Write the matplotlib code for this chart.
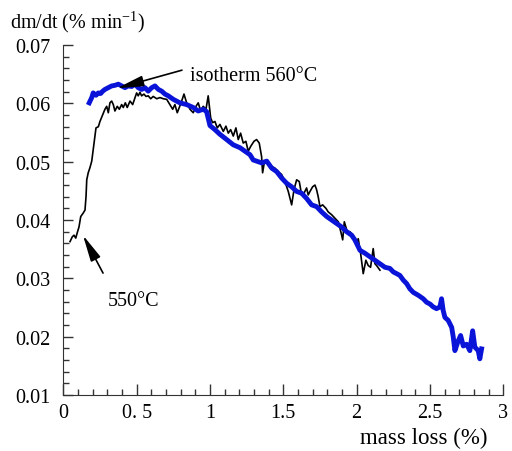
"""Mass-loss rate vs mass loss: ramp to 550 C (black) and isotherm 560 C (blue)."""

import matplotlib
matplotlib.use("Agg")
import matplotlib.pyplot as plt
from matplotlib.ticker import MultipleLocator

plt.rcParams["font.family"] = ["Liberation Serif", "DejaVu Serif"]

# black curve (heating to 550 C)
ramp_x = [0.046, 0.061, 0.073, 0.085, 0.095, 0.107, 0.119, 0.136, 0.148, 0.155,
          0.160, 0.170, 0.182, 0.194, 0.204, 0.216, 0.223, 0.239, 0.250, 0.269,
          0.284, 0.296, 0.307, 0.318, 0.330, 0.341, 0.352, 0.368, 0.382, 0.398,
          0.409, 0.423, 0.436, 0.455, 0.473, 0.489, 0.500, 0.511, 0.523, 0.534,
          0.550, 0.564, 0.579, 0.596, 0.613, 0.637, 0.659, 0.682, 0.705, 0.727,
          0.746, 0.761, 0.777, 0.791, 0.807, 0.823, 0.841, 0.864, 0.886, 0.905,
          0.920, 0.937, 0.954, 0.973, 0.988, 1.005, 1.018, 1.034, 1.050, 1.068,
          1.091, 1.109, 1.125, 1.141, 1.159, 1.177, 1.193, 1.209, 1.227, 1.245,
          1.261, 1.277, 1.300, 1.318, 1.336, 1.352, 1.359, 1.372, 1.397, 1.421,
          1.443, 1.466, 1.489, 1.511, 1.534, 1.557, 1.573, 1.591, 1.609, 1.625,
          1.641, 1.659, 1.670, 1.682, 1.700, 1.716, 1.727, 1.738, 1.750, 1.768,
          1.791, 1.806, 1.830, 1.852, 1.875, 1.895, 1.905, 1.916, 1.936, 1.954,
          1.977, 2.000, 2.011, 2.027, 2.045, 2.063, 2.079, 2.095, 2.113, 2.125,
          2.136, 2.159]
ramp_y = [0.0363, 0.0371, 0.0374, 0.0369, 0.0378, 0.0388, 0.0406, 0.0412, 0.0417, 0.0440,
          0.0469, 0.0481, 0.0490, 0.0501, 0.0521, 0.0544, 0.0558, 0.0560, 0.0569, 0.0581,
          0.0590, 0.0595, 0.0584, 0.0601, 0.0604, 0.0598, 0.0587, 0.0595, 0.0590, 0.0598,
          0.0593, 0.0601, 0.0593, 0.0604, 0.0598, 0.0610, 0.0618, 0.0613, 0.0619, 0.0613,
          0.0616, 0.0612, 0.0613, 0.0608, 0.0612, 0.0608, 0.0610, 0.0608, 0.0607, 0.0598,
          0.0590, 0.0598, 0.0584, 0.0593, 0.0604, 0.0616, 0.0601, 0.0590, 0.0584, 0.0595,
          0.0601, 0.0587, 0.0595, 0.0590, 0.0613, 0.0575, 0.0567, 0.0569, 0.0558, 0.0564,
          0.0552, 0.0561, 0.0549, 0.0555, 0.0544, 0.0558, 0.0538, 0.0549, 0.0532, 0.0535,
          0.0518, 0.0526, 0.0535, 0.0538, 0.0532, 0.0509, 0.0481, 0.0501, 0.0498, 0.0492,
          0.0489, 0.0483, 0.0478, 0.0466, 0.0449, 0.0426, 0.0452, 0.0469, 0.0466, 0.0443,
          0.0446, 0.0455, 0.0443, 0.0449, 0.0457, 0.0460, 0.0452, 0.0440, 0.0423, 0.0426,
          0.0420, 0.0414, 0.0409, 0.0403, 0.0397, 0.0377, 0.0366, 0.0397, 0.0380, 0.0380,
          0.0374, 0.0360, 0.0368, 0.0343, 0.0308, 0.0331, 0.0322, 0.0319, 0.0351, 0.0325,
          0.0322, 0.0314]

# blue curve (isotherm 560 C)
iso_x = [0.177, 0.194, 0.204, 0.223, 0.239, 0.255, 0.269, 0.284, 0.307, 0.330,
         0.352, 0.375, 0.398, 0.421, 0.443, 0.466, 0.489, 0.511, 0.534, 0.557,
         0.579, 0.603, 0.625, 0.648, 0.671, 0.693, 0.716, 0.750, 0.795, 0.841,
         0.886, 0.920, 0.954, 0.977, 1.000, 1.034, 1.068, 1.114, 1.159, 1.205,
         1.239, 1.273, 1.295, 1.318, 1.352, 1.387, 1.421, 1.455, 1.489, 1.523,
         1.557, 1.591, 1.625, 1.659, 1.693, 1.727, 1.761, 1.796, 1.830, 1.864,
         1.898, 1.932, 1.966, 1.988, 2.023, 2.057, 2.091, 2.125, 2.159, 2.193,
         2.227, 2.250, 2.273, 2.295, 2.318, 2.341, 2.363, 2.386, 2.420, 2.454,
         2.477, 2.500, 2.522, 2.545, 2.568, 2.579, 2.590, 2.602, 2.624, 2.648,
         2.659, 2.670, 2.693, 2.709, 2.727, 2.750, 2.772, 2.791, 2.806, 2.829,
         2.840, 2.852]
iso_y = [0.0601, 0.0610, 0.0618, 0.0614, 0.0618, 0.0617, 0.0621, 0.0624, 0.0627, 0.0630,
         0.0631, 0.0633, 0.0630, 0.0627, 0.0630, 0.0629, 0.0633, 0.0627, 0.0624, 0.0627,
         0.0621, 0.0627, 0.0630, 0.0624, 0.0621, 0.0616, 0.0613, 0.0607, 0.0601, 0.0598,
         0.0593, 0.0587, 0.0590, 0.0586, 0.0562, 0.0555, 0.0547, 0.0538, 0.0529, 0.0524,
         0.0518, 0.0512, 0.0503, 0.0501, 0.0498, 0.0501, 0.0489, 0.0483, 0.0472, 0.0463,
         0.0457, 0.0449, 0.0446, 0.0437, 0.0426, 0.0423, 0.0414, 0.0406, 0.0400, 0.0394,
         0.0388, 0.0380, 0.0374, 0.0366, 0.0348, 0.0343, 0.0337, 0.0331, 0.0325, 0.0319,
         0.0317, 0.0311, 0.0308, 0.0305, 0.0297, 0.0291, 0.0282, 0.0276, 0.0271, 0.0265,
         0.0259, 0.0256, 0.0251, 0.0248, 0.0251, 0.0265, 0.0245, 0.0233, 0.0228, 0.0216,
         0.0199, 0.0176, 0.0193, 0.0202, 0.0184, 0.0187, 0.0176, 0.0210, 0.0182, 0.0176,
         0.0162, 0.0179]

x_ticks = [0, 0.5, 1, 1.5, 2, 2.5, 3]
x_tick_labels = ["0", "0. 5", "1", "1.5", "2", "2.5", "3"]
y_ticks = [0.01, 0.02, 0.03, 0.04, 0.05, 0.06, 0.07]
y_tick_labels = ["0.01", "0.02", "0.03", "0.04", "0.05", "0.06", "0.07"]

fig = plt.figure(figsize=(5.12, 4.52), dpi=100)
ax = fig.add_axes([0.1236, 0.124, 0.8594, 0.774])

ax.plot(ramp_x, ramp_y, color="black", lw=1.2)
ax.plot(iso_x, iso_y, color="#0a14d8", lw=3.5, solid_joinstyle="round")

ax.set_xlim(0, 3)
ax.set_ylim(0.01, 0.07)
ax.set_xticks(x_ticks)
ax.set_xticklabels(x_tick_labels)
ax.set_yticks(y_ticks)
ax.set_yticklabels(y_tick_labels)
ax.xaxis.set_minor_locator(MultipleLocator(0.1))
ax.yaxis.set_minor_locator(MultipleLocator(0.002))
ax.tick_params(which="both", direction="in", labelsize=14.5, width=1, color="#333333")
ax.tick_params(axis="y", which="major", length=7, pad=9)
ax.tick_params(axis="y", which="minor", length=4)
ax.tick_params(axis="x", which="major", length=8, pad=6)
ax.tick_params(axis="x", which="minor", length=4)

for side in ["top", "right"]:
    ax.spines[side].set_visible(False)
for side in ["left", "bottom"]:
    ax.spines[side].set_color("#333333")

arrow = dict(arrowstyle="-|>,head_length=0.9,head_width=0.18", color="black",
             lw=1.2, mutation_scale=18, shrinkA=0, shrinkB=0)
ax.annotate("", xy=(0.366, 0.0626), xytext=(0.809, 0.0657), arrowprops=arrow)
ax.text(0.864, 0.0648, "isotherm 560°C", fontsize=14.5, va="center", ha="left")
ax.annotate("", xy=(0.134, 0.0374), xytext=(0.271, 0.0309), arrowprops=arrow)
ax.text(0.305, 0.0262, "550°C", fontsize=14.5, va="center", ha="left")

fig.text(0.02, 0.952, "dm/dt (% min$^{\\mathregular{-1}}$)", fontsize=14.5, ha="left", va="center")
fig.text(0.953, 0.031, "mass loss (%)", fontsize=16.5, ha="right", va="center")

fig.savefig("out.png", dpi=100)
